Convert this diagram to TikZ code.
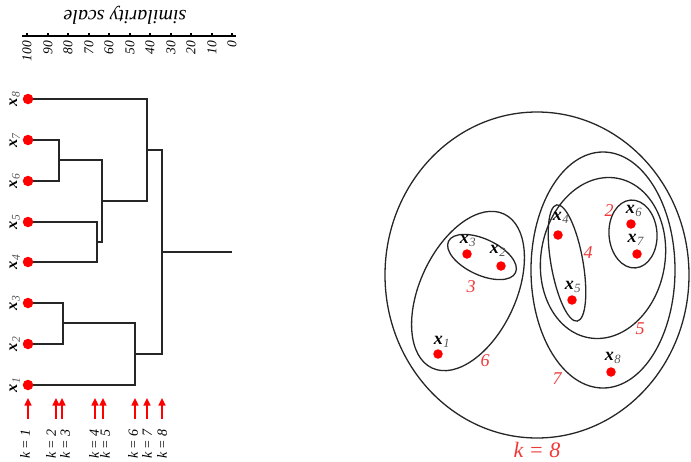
\documentclass[tikz,border=0pt]{standalone}
\usepackage{fontspec}
\setmainfont{Liberation Serif}
\usetikzlibrary{arrows.meta}
\definecolor{lred}{HTML}{F03838}
\definecolor{subgray}{HTML}{555555}
\newcommand{\ptlab}[1]{\textbf{\textit{x}}\kern0.3pt\textsubscript{\textcolor{subgray}{\textit{#1}}}}
\begin{document}
\begin{tikzpicture}[x=1pt,y=-1pt,
  dot/.style={circle,fill=red,inner sep=0pt,minimum size=10.5pt},
  sdot/.style={circle,fill=red,inner sep=0pt,minimum size=9.5pt},
  dline/.style={line width=1.8pt,black!85},
  ring/.style={line width=1.3pt,black!85},
  karrow/.style={red,line width=1.6pt,-{Triangle[length=7.5pt,width=7pt]}},
  enum/.style={text=lred,font=\fontsize{18}{18}\selectfont\itshape,inner sep=0pt},
  plab/.style={font=\fontsize{18}{18}\selectfont,inner sep=0pt},
  llab/.style={font=\fontsize{16.5}{16.5}\selectfont,inner sep=0pt,rotate=90,anchor=south},
  klab/.style={font=\fontsize{14}{14}\selectfont\itshape,inner sep=0pt,rotate=90,anchor=east},
  snum/.style={font=\fontsize{13.5}{13.5}\selectfont\itshape,inner sep=0pt,rotate=90,anchor=east}
]
\useasboundingbox (0,0) rectangle (691,461);

% ---------- similarity scale ----------
\node[font=\fontsize{20}{20}\selectfont\itshape,rotate=180,inner sep=0pt] (stitle) at (125,15) {similarity scale};
\coordinate (axl) at (22,36);
\coordinate (axr) at (236,36);
\draw[line width=1.6pt] (axl) -- (axr);
\foreach \v in {100,90,...,0}{
  \pgfmathsetmacro{\xx}{round(27+(100-\v)*2.05)}
  \draw[line width=1.1pt] (\xx,36) -- (\xx,32.5);
  \node[snum] (s\v) at (\xx,41) {\v};
}

% ---------- dendrogram leaves ----------
\foreach \i/\y in {8/99,7/140,6/181,5/222,4/262,3/303,2/344,1/385}{
  \coordinate (l\i) at (28,\y);
}
% merge coordinates
\coordinate (m67a) at (59,140);  \coordinate (m67b) at (59,181);  \coordinate (m67) at (59,160);
\coordinate (m45a) at (97,222);  \coordinate (m45b) at (97,262);  \coordinate (m45) at (97,242);
\coordinate (m47a) at (102,160); \coordinate (m47b) at (102,242); \coordinate (m47) at (102,201);
\coordinate (m48a) at (147,99);  \coordinate (m48b) at (147,201); \coordinate (m48) at (147,150);
\coordinate (m23a) at (63,303);  \coordinate (m23b) at (63,344);  \coordinate (m23) at (63,323);
\coordinate (m13a) at (135,323); \coordinate (m13b) at (135,385); \coordinate (m13) at (135,354);
\coordinate (mra) at (162,150);  \coordinate (mrb) at (162,354);  \coordinate (mr) at (162,252);
\coordinate (root) at (232,252);

\draw[dline] (l7) -- (m67a) -- (m67b) -- (l6);
\draw[dline] (l5) -- (m45a) -- (m45b) -- (l4);
\draw[dline] (m67) -- (m47a) -- (m47b) -- (m45);
\draw[dline] (l8) -- (m48a) -- (m48b) -- (m47);
\draw[dline] (l3) -- (m23a) -- (m23b) -- (l2);
\draw[dline] (m23) -- (m13a) -- (m13b) -- (l1);
\draw[dline] (m48) -- (mra) -- (mrb) -- (m13);
\draw[dline] (mr) -- (root);

\foreach \i in {1,...,8}{
  \node[dot] (d\i) at (l\i) {};
  \node[llab] (t\i) at ([xshift=-8pt]l\i) {\ptlab{\i}};
}

% ---------- k arrows ----------
\foreach \k/\ax/\lx in {1/28/25,2/56/51,3/62/65,4/95/94,5/103/105,6/135/133,7/147/147,8/162/162}{
  \coordinate (ab\k) at (\ax,419);
  \coordinate (at\k) at (\ax,398);
  \draw[karrow] (ab\k) -- (at\k);
  \node[klab] (k\k) at (\lx,429) {k = \k};
}

% ---------- cluster diagram ----------
\draw[ring] (537,275) ellipse [x radius=152, y radius=163];
\draw[ring] (603,270) ellipse [x radius=72, y radius=118];
\draw[ring,rotate around={-10:(603,258)}] (603,258) ellipse [x radius=62, y radius=81];
\draw[ring,rotate around={4:(633,234)}] (633,234) ellipse [x radius=24, y radius=34];
\draw[ring,rotate around={10:(567,263)}] (567,263) ellipse [x radius=16, y radius=59];
\draw[ring,rotate around={-25:(468,291)}] (468,291) ellipse [x radius=48, y radius=85];
\draw[ring,rotate around={-25:(482,257)}] (482,257) ellipse [x radius=37, y radius=18];

\node[sdot] (p1) at (438,354) {};
\node[sdot] (p2) at (501,266) {};
\node[sdot] (p3) at (467,254) {};
\node[sdot] (p4) at (558,235) {};
\node[sdot] (p5) at (572,300) {};
\node[sdot] (p6) at (631,224) {};
\node[sdot] (p7) at (637,254) {};
\node[sdot] (p8) at (611,372) {};

\node[plab] (q1) at (442,342) {\ptlab{1}};
\node[plab] (q2) at (498,251) {\ptlab{2}};
\node[plab] (q3) at (468,241) {\ptlab{3}};
\node[plab] (q4) at (561,218) {\ptlab{4}};
\node[plab] (q5) at (573,287) {\ptlab{5}};
\node[plab] (q6) at (634,211) {\ptlab{6}};
\node[plab] (q7) at (636,240) {\ptlab{7}};
\node[plab] (q8) at (613,358) {\ptlab{8}};

\node[enum] (c2) at (609,211) {2};
\node[enum] (c3) at (471,287) {3};
\node[enum] (c4) at (588,253) {4};
\node[enum] (c5) at (640,329) {5};
\node[enum] (c6) at (485,361) {6};
\node[enum] (c7) at (557,379) {7};
\node[enum,font=\fontsize{22}{22}\selectfont\itshape] (c8) at (537,450) {k = 8};
\end{tikzpicture}
\end{document}
